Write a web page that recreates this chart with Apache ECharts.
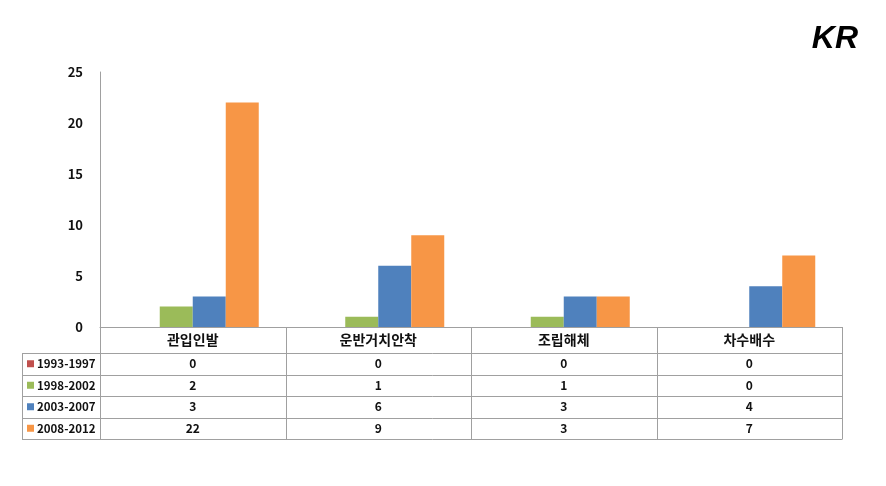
<!DOCTYPE html>
<html><head><meta charset="utf-8">
<script src="https://cdn.jsdelivr.net/npm/echarts@6/dist/echarts.min.js"></script>
<style>html,body{margin:0;padding:0;background:#fff}#c{width:886px;height:486px}</style>
</head><body><div id="c"></div>
<script>
const categories = ['관입인발', '운반거치안착', '조립해체', '차수배수'];
const seriesNames = ['1993-1997', '1998-2002', '2003-2007', '2008-2012'];
const s1993 = [0, 0, 0, 0];
const s1998 = [2, 1, 1, 0];
const s2003 = [3, 6, 3, 4];
const s2008 = [22, 9, 3, 7];
const yTicks = [0, 5, 10, 15, 20, 25];
const colors = ['#C0504D', '#9BBB59', '#4F81BD', '#F79646'];
const values = [s1993, s1998, s2003, s2008];

const chart = echarts.init(document.getElementById('c'));
const FONT = '"Noto Sans CJK KR", "Noto Sans", sans-serif';
const gL = 100, gR = 842, gT = 72, gB = 327;
const tableLeft = 22, rowTop = 353, rowH = 21.5;

chart.setOption({
  animation: false,
  backgroundColor: '#fff',
  title: { text: 'KR', right: 28, top: 23, padding: 0, textStyle: { fontFamily: 'Liberation Sans, Arial, sans-serif', fontStyle: 'italic', fontWeight: 'bold', fontSize: 32, color: '#000' } },
  grid: { left: gL, right: 886 - gR, top: gT, bottom: 486 - gB },
  xAxis: {
    type: 'category', data: categories,
    axisLine: { lineStyle: { color: '#A0A0A0', width: 1 } },
    axisTick: { show: false },
    axisLabel: { fontFamily: FONT, fontWeight: 'bold', fontSize: 14, color: '#111', margin: 6 }
  },
  yAxis: {
    type: 'value', min: yTicks[0], max: yTicks[yTicks.length - 1], interval: 5,
    axisLine: { show: true, lineStyle: { color: '#A0A0A0', width: 1 } },
    axisTick: { show: false },
    splitLine: { show: false },
    axisLabel: { fontFamily: FONT, fontWeight: 'bold', fontSize: 13, color: '#111', margin: 17 }
  },
  series: seriesNames.map((n, i) => ({
    name: n, type: 'bar', data: values[i], barWidth: 33, barGap: '0%',
    itemStyle: { color: colors[i] }
  }))
});

// data table under the chart, built from the arrays
const g = [];
const lineStyle = { stroke: '#A0A0A0', lineWidth: 1 };
const colX = categories.map((c, i) => chart.convertToPixel({ xAxisIndex: 0 }, c));
const colW = (gR - gL) / categories.length;
const tableBottom = rowTop + rowH * seriesNames.length;
for (let i = 0; i <= categories.length; i++) {
  const x = Math.round(gL + colW * i) + 0.5;
  g.push({ type: 'line', shape: { x1: x, y1: gB, x2: x, y2: tableBottom }, style: lineStyle, silent: true });
}
g.push({ type: 'line', shape: { x1: tableLeft + 0.5, y1: rowTop, x2: tableLeft + 0.5, y2: tableBottom }, style: lineStyle, silent: true });
for (let r = 0; r <= seriesNames.length; r++) {
  const y = Math.round(rowTop + rowH * r) + 0.5;
  g.push({ type: 'line', shape: { x1: tableLeft, y1: y, x2: gR + 0.5, y2: y }, style: lineStyle, silent: true });
}
seriesNames.forEach((n, r) => {
  const cy = rowTop + rowH * r + rowH / 2;
  g.push({ type: 'rect', shape: { x: 27, y: cy - 3.5, width: 7, height: 7 }, style: { fill: colors[r] }, silent: true });
  g.push({ type: 'text', style: { text: n, x: 37, y: cy, textVerticalAlign: 'middle', font: 'bold 11.5px ' + FONT, fill: '#111' }, silent: true });
  values[r].forEach((v, c) => {
    g.push({ type: 'text', style: { text: String(v), x: colX[c], y: cy, textAlign: 'center', textVerticalAlign: 'middle', font: 'bold 12px ' + FONT, fill: '#111' }, silent: true });
  });
});
chart.setOption({ graphic: g });
</script></body></html>
